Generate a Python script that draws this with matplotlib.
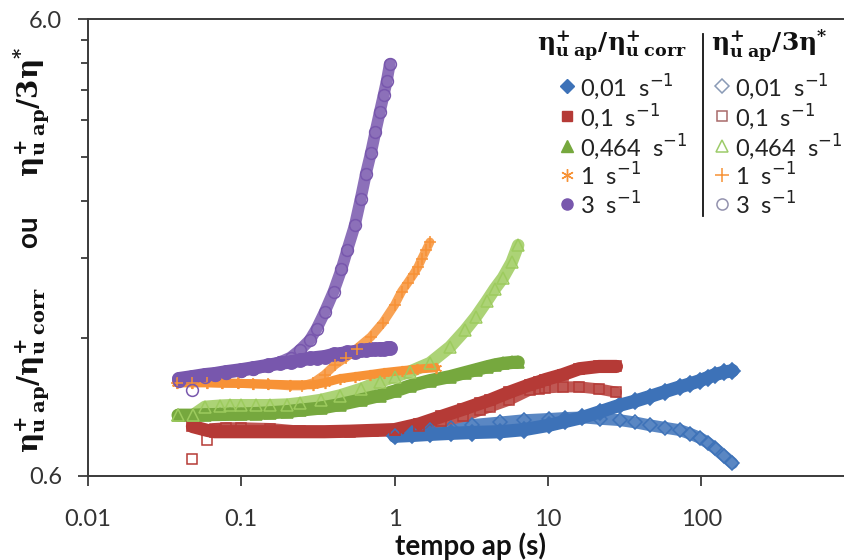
import numpy as np
import matplotlib
matplotlib.use("Agg")
import matplotlib.pyplot as plt
from matplotlib.ticker import FixedLocator, NullLocator, FixedFormatter, NullFormatter
from matplotlib.colors import to_rgb

# ---------------- data ----------------
rate_labels = ["0,01", "0,1", "0,464", "1", "3"]

# 0.01 s-1
t_001 = [1.0, 1.3, 1.7, 2.35, 3.2, 4.9, 7.0, 10.2, 13.0, 16.8, 22, 29.4, 37, 46, 58, 72.6, 85, 98, 110, 123, 140, 160]
corr_001 = [0.733, 0.736, 0.74, 0.744, 0.747, 0.75, 0.758, 0.775, 0.79, 0.806, 0.83, 0.857, 0.875, 0.895, 0.918, 0.94, 0.955, 0.97, 0.985, 1.0, 1.012, 1.02]
eta3_001 = [0.735, 0.745, 0.755, 0.765, 0.776, 0.786, 0.795, 0.80, 0.804, 0.806, 0.80, 0.795, 0.786, 0.775, 0.765, 0.756, 0.742, 0.727, 0.71, 0.69, 0.665, 0.64]

# 0.1 s-1
t_01 = [0.048, 0.060, 0.067, 0.08, 0.1, 0.154, 0.241, 0.35, 0.51, 0.72, 1.0, 1.45, 2.02, 2.8, 3.6, 4.2, 5.6, 7.6, 8.8, 9.6, 12.5, 16.0, 21.6, 28]
corr_01 = [0.77, 0.755, 0.75, 0.75, 0.75, 0.75, 0.75, 0.75, 0.752, 0.755, 0.758, 0.78, 0.81, 0.84, 0.865, 0.88, 0.915, 0.95, 0.965, 0.975, 1.0, 1.03, 1.042, 1.042]
eta3_01 = [0.655, 0.72, 0.762, 0.765, 0.765, 0.762, 0.752, 0.75, 0.75, 0.752, 0.755, 0.77, 0.79, 0.81, 0.835, 0.85, 0.88, 0.925, 0.932, 0.935, 0.94, 0.94, 0.93, 0.915]

# 0.464 s-1
t_0464 = [0.0387, 0.0484, 0.058, 0.0726, 0.085, 0.1, 0.125, 0.154, 0.2, 0.241, 0.33, 0.44, 0.6, 0.80, 1.0, 1.26, 1.70, 2.30, 2.88, 3.4, 4.0, 4.5, 5.1, 5.8, 6.4]
corr_0464 = [0.815, 0.815, 0.817, 0.818, 0.82, 0.82, 0.822, 0.825, 0.83, 0.836, 0.845, 0.86, 0.88, 0.90, 0.92, 0.945, 0.97, 0.99, 1.01, 1.025, 1.04, 1.05, 1.058, 1.063, 1.065]
eta3_0464 = [0.815, 0.815, 0.85, 0.855, 0.857, 0.857, 0.857, 0.857, 0.86, 0.866, 0.88, 0.9, 0.93, 0.965, 0.99, 1.015, 1.06, 1.15, 1.25, 1.34, 1.45, 1.54, 1.63, 1.76, 1.92]

# 1 s-1
t_1_corr = [0.038, 0.048, 0.06, 0.075, 0.095, 0.119, 0.15, 0.208, 0.295, 0.35, 0.44, 0.55, 0.69, 0.85, 1.11, 1.4, 1.85]
corr_1 = [0.96, 0.96, 0.96, 0.958, 0.957, 0.955, 0.953, 0.95, 0.95, 0.96, 0.98, 0.99, 1.0, 1.01, 1.02, 1.028, 1.035]
t_1_eta3 = [0.038, 0.048, 0.06, 0.075, 0.095, 0.119, 0.15, 0.208, 0.25, 0.295, 0.35, 0.408, 0.48, 0.566, 0.7, 0.84, 1.0, 1.11, 1.22, 1.33, 1.42, 1.50, 1.60, 1.70]
eta3_1 = [0.96, 0.96, 0.96, 0.958, 0.957, 0.955, 0.952, 0.945, 0.945, 0.96, 1.0, 1.05, 1.09, 1.14, 1.21, 1.30, 1.42, 1.52, 1.59, 1.66, 1.72, 1.79, 1.87, 1.95]

# 3 s-1
t_3 = [0.039, 0.048, 0.058, 0.067, 0.08, 0.1, 0.12, 0.15, 0.18, 0.21, 0.24, 0.28, 0.31, 0.35, 0.40, 0.45, 0.49, 0.55, 0.60, 0.65, 0.70, 0.75, 0.80, 0.85, 0.89, 0.93]
corr_3 = [0.98, 0.99, 1.0, 1.005, 1.015, 1.025, 1.035, 1.048, 1.06, 1.065, 1.075, 1.085, 1.09, 1.095, 1.107, 1.112, 1.118, 1.123, 1.13, 1.13, 1.135, 1.135, 1.14, 1.14, 1.142, 1.145]
eta3_3 = [0.97, 0.925, 0.99, 1.0, 1.01, 1.02, 1.03, 1.045, 1.065, 1.09, 1.13, 1.19, 1.26, 1.37, 1.52, 1.70, 1.87, 2.12, 2.42, 2.75, 3.05, 3.40, 3.75, 4.10, 4.40, 4.78]

x_ticks = [0.01, 0.1, 1, 10, 100]
x_tick_labels = ["0.01", "0.1", "1", "10", "100"]
y_ticks = [0.6, 6.0]
y_tick_labels = ["0.6", "6.0"]
y_minor_ticks = [1.2, 1.8, 2.4, 3.0, 3.6, 4.2, 4.8, 5.4]

# ---------------- styling ----------------
plt.rcParams["font.family"] = ["Lato", "DejaVu Sans"]

c_blue, c_red, c_green, c_orange, c_purple = "#3D72B8", "#B53A36", "#76A83E", "#F79236", "#7857AD"
c_green_h = "#9DCB5E"

def tint(c, f):
    r, g, b = to_rgb(c)
    return (r + (1 - r) * f, g + (1 - g) * f, b + (1 - b) * f)

W, H = 845, 560
fig = plt.figure(figsize=(W / 100, H / 100), dpi=100)
L, R, T, B = 88, 854.5, 19, 476
ax = fig.add_axes([L / W, 1 - B / H, (R - L) / W, (B - T) / H])
ax.set_xscale("log")
ax.set_yscale("log")
ax.set_xlim(0.01, 1000)
ax.set_ylim(0.6, 6.0)

series = [
    # x, y, color, marker, ms, hollow, band lw, band start
    (t_001, eta3_001, c_blue, "D", 7.5, True, 8.5, 0),
    (t_01, eta3_01, c_red, "s", 7.0, True, 8.0, 2),
    (t_0464, eta3_0464, c_green_h, "^", 8.0, True, 9.0, 0),
    (t_1_eta3, eta3_1, c_orange, "+", 8.0, True, 6.5, 0),
    (t_3, eta3_3, c_purple, "o", 8.5, True, 8.5, 2),
    (t_001, corr_001, c_blue, "D", 8.0, False, 9.5, 0),
    (t_01, corr_01, c_red, "s", 7.5, False, 9.5, 0),
    (t_0464, corr_0464, c_green, "^", 9.0, False, 9.5, 0),
    (t_1_corr, corr_1, c_orange, (6, 2, 0), 8.0, False, 6.5, 0),
    (t_3, corr_3, c_purple, "o", 9.5, False, 9.5, 0),
]

for x, y, c, m, ms, hollow, lw, s0 in series:
    xs, ys = np.array(x), np.array(y)
    if hollow:
        ax.plot(xs[s0:], ys[s0:], "-", color=tint(c, 0.15), lw=lw, solid_capstyle="round", zorder=2)
for x, y, c, m, ms, hollow, lw, s0 in series:
    if not hollow:
        ax.plot(x, y, "-", color=c, lw=lw, solid_capstyle="round", zorder=3)
        ax.plot(x, y, ls="none", marker=m, ms=ms, mfc=c, mec=c, mew=1.2, zorder=3.5)
for x, y, c, m, ms, hollow, lw, s0 in series:
    if hollow:
        ax.plot(x, y, ls="none", marker=m, ms=ms, mfc="none", mec=c, mew=1.1, zorder=4)

ax.xaxis.set_major_locator(FixedLocator(x_ticks))
ax.xaxis.set_major_formatter(FixedFormatter(x_tick_labels))
ax.xaxis.set_minor_locator(NullLocator())
ax.yaxis.set_major_locator(FixedLocator(y_ticks))
ax.yaxis.set_major_formatter(FixedFormatter(y_tick_labels))
ax.yaxis.set_minor_locator(FixedLocator(y_minor_ticks))
ax.yaxis.set_minor_formatter(NullFormatter())

spine_c = "#3a3a3a"
for s in ["left", "bottom", "top"]:
    ax.spines[s].set_color(spine_c)
    ax.spines[s].set_linewidth(1.4)
ax.spines["right"].set_visible(False)
ax.tick_params(axis="both", which="major", direction="out", length=7.5, width=1.3,
               color=spine_c, labelsize=17, labelcolor="#333333")
ax.tick_params(axis="y", which="minor", direction="out", length=5.2, width=1.3, color=spine_c)
ax.tick_params(axis="x", which="major", pad=16, top=False)
ax.tick_params(axis="y", which="major", pad=11)

# axis titles
fig.text(471 / W, 1 - 546 / H, "tempo ap (s)", ha="center", va="center",
         fontsize=20, fontweight="bold", color="#111111")
ylab = (r"$\mathbf{\eta^{+}_{u\ ap}/\eta^{+}_{u\ corr}}$" + "      ou      " +
        r"$\mathbf{\eta^{+}_{u\ ap}/3\eta^{*}}$")
fig.text(32 / W, 1 - 250 / H, ylab, rotation=90, ha="center", va="center",
         fontsize=20, fontweight="bold", color="#111111", math_fontfamily="dejavuserif")

# legend (overlay in pixel coordinates)
lx = fig.add_axes([0, 0, 1, 1], zorder=10)
lx.set_xlim(0, W)
lx.set_ylim(H, 0)
lx.axis("off")
lx.patch.set_alpha(0)

rows = [86, 116, 146, 175, 204]
fill_m = [("D", c_blue, 7), ("s", c_red, 7), ("^", c_green, 8), ((6, 2, 0), c_orange, 9), ("o", c_purple, 8)]
hol_m = [("D", "#8A9AB6", 7), ("s", "#A86A6A", 7), ("^", "#9DCB6A", 8), ("+", c_orange, 10), ("o", "#9392AE", 8)]
for i, yr in enumerate(rows):
    m, c, ms = fill_m[i]
    if m == (6, 2, 0):
        lx.plot([567], [yr], ls="none", marker=m, ms=ms, mec=c, mew=1.0)
    else:
        lx.plot([567], [yr], ls="none", marker=m, ms=ms, mfc=c, mec=c)
    lx.text(580, yr + 1, rate_labels[i] + r"  s$^{-1}$", ha="left", va="center", fontsize=17, color="#222222")
    m, c, ms = hol_m[i]
    lx.plot([722], [yr], ls="none", marker=m, ms=ms, mfc="none", mec=c, mew=1.1)
    lx.text(735, yr + 1, rate_labels[i] + r"  s$^{-1}$", ha="left", va="center", fontsize=17, color="#222222")

lx.text(612, 46, r"$\mathbf{\eta^{+}_{u\ ap}/\eta^{+}_{u\ corr}}$", ha="center", va="center",
        fontsize=18, math_fontfamily="dejavuserif", color="#111111")
lx.text(711, 46, r"$\mathbf{\eta^{+}_{u\ ap}/3\eta^{*}}$", ha="left", va="center",
        fontsize=18, math_fontfamily="dejavuserif", color="#111111")
lx.plot([703, 703], [34, 216], color="#111111", lw=1.3)

fig.savefig("out.png", dpi=100)
